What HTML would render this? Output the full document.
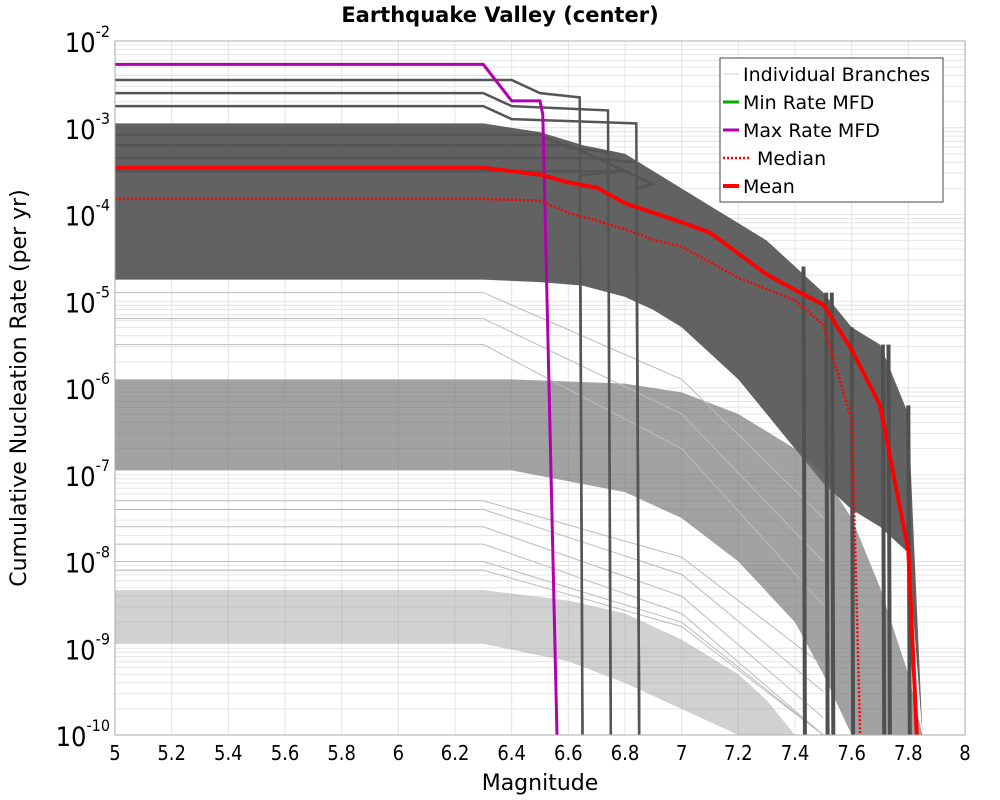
<!DOCTYPE html>
<html><head><meta charset="utf-8"><style>
body{margin:0;background:#fff;font-family:"Liberation Sans","DejaVu Sans",sans-serif}
</style></head><body>
<svg id="chart" width="1000" height="800" xmlns="http://www.w3.org/2000/svg" style="display:block">
<text x="500" y="22" text-anchor="middle" font-family="DejaVu Sans, sans-serif" font-weight="bold" font-size="21">Earthquake Valley (center)</text>
<text x="540" y="790" text-anchor="middle" font-family="DejaVu Sans, sans-serif" font-size="22">Magnitude</text>
<text transform="translate(26,388) rotate(-90)" text-anchor="middle" font-family="DejaVu Sans, sans-serif" font-size="22">Cumulative Nucleation Rate (per yr)</text>
<g id="grid"></g>
<g id="bands"></g>
<g id="branches"></g>
<g id="series"></g>
<g id="axes"></g>
<g id="legend"></g>
</svg>
<script>
// ---- data ----
const xTicks=[5,5.2,5.4,5.6,5.8,6,6.2,6.4,6.6,6.8,7,7.2,7.4,7.6,7.8,8];
const xTickLabels=["5","5.2","5.4","5.6","5.8","6","6.2","6.4","6.6","6.8","7","7.2","7.4","7.6","7.8","8"];
const yDecades=[-2,-3,-4,-5,-6,-7,-8,-9,-10];
const meanMags=[5,6.3,6.5,6.6,6.7,6.8,6.9,7.0,7.1,7.2,7.3,7.4,7.5,7.6,7.7,7.8,7.83];
const meanLog=[-3.46,-3.46,-3.54,-3.63,-3.69,-3.87,-3.98,-4.09,-4.21,-4.45,-4.69,-4.87,-5.04,-5.56,-6.2,-7.87,-10];
const medianMags=[5,6.3,6.5,6.6,6.7,6.8,6.9,7.0,7.1,7.2,7.3,7.4,7.5,7.6,7.63];
const medianLog=[-3.82,-3.82,-3.84,-3.98,-4.07,-4.17,-4.29,-4.37,-4.55,-4.73,-4.86,-4.99,-5.27,-6.37,-10];
const maxMags=[5,6.3,6.4,6.5,6.51,6.56];
const maxLog=[-2.27,-2.27,-2.69,-2.69,-2.85,-10];
const bandTopMags=[5,6.3,6.5,6.65,6.8,6.9,7.0,7.1,7.2,7.3,7.4,7.5,7.6,7.7,7.8,7.85];
const bandTopUpper=[-2.95,-2.95,-3.05,-3.2,-3.3,-3.5,-3.7,-3.9,-4.1,-4.3,-4.6,-4.9,-5.3,-5.5,-6.3,-10];
const bandTopLower=[-4.75,-4.75,-4.78,-4.82,-4.95,-5.1,-5.3,-5.6,-5.9,-6.3,-6.7,-7.1,-7.4,-7.6,-7.9,-10];
const bandMidMags=[5,6.4,6.8,7.0,7.2,7.4,7.5,7.6,7.7,7.8,7.85];
const bandMidUpper=[-5.9,-5.9,-5.95,-6.05,-6.3,-6.7,-7.0,-7.5,-8.3,-9.3,-10];
const bandMidLower=[-6.95,-6.95,-7.2,-7.5,-8.0,-8.7,-9.3,-10,-10,-10,-10];
const bandLowMags=[5,6.3,6.6,6.8,7.0,7.2,7.3,7.4];
const bandLowUpper=[-8.33,-8.33,-8.45,-8.6,-8.9,-9.3,-9.6,-10];
const bandLowLower=[-8.95,-8.95,-9.15,-9.4,-9.7,-10,-10,-10];
const darkLevels=[-2.45,-2.6,-2.75,-3.08,-3.2,-3.35,-3.5];
const darkKnee=[6.4,6.3,6.3,6.5,6.6,6.7,6.8];
const darkDrop=[6.65,6.75,6.85,6.75,6.85,6.65,6.85];
const vertMags=[7.43,7.51,7.53,7.6,7.71,7.73,7.8];
const vertTop=[-4.6,-4.9,-4.9,-5.3,-5.5,-5.5,-6.2];
const lightLevels=[-7.4,-7.6,-7.8,-8.0,-8.1,-7.3,-5.2,-5.5,-4.9];
const lightEnd=[-9.5,-9.8,-10,-10,-10,-9.2,-8,-8.5,-7.5];

const L=115,R=965,T=41,B=735;
const X=m=>L+(m-5)/3*(R-L);
const Y=l=>T+(-2-l)*(B-T)/8;
const NS="http://www.w3.org/2000/svg";
function mk(tag,parent,attrs){const e=document.createElementNS(NS,tag);for(const k in attrs)e.setAttribute(k,attrs[k]);parent.appendChild(e);return e;}
const grid=document.getElementById('grid');
yDecades.forEach(d=>{if(d<=-10)return;for(let k=1;k<10;k++){const l=d-1+Math.log10(k);
 const ln=mk('line',grid,{x1:L,x2:R,y1:Y(l),y2:Y(l),stroke:'#e4e4e4','stroke-width':1});
 
 }});
xTicks.forEach(m=>{const ln=mk('line',grid,{x1:X(m),x2:X(m),y1:T,y2:B,stroke:'#e4e4e4','stroke-width':1});
 
 });
const clamp=l=>Math.max(-10,l);
function band(mags,up,lo,fill,op,name){let p=mags.map((m,i)=>X(m)+','+Y(clamp(up[i]))).concat(mags.map((m,i)=>X(m)+','+Y(clamp(lo[i]))).reverse());
 const e=mk('polygon',document.getElementById('bands'),{points:p.join(' '),fill:fill,'fill-opacity':op});
 
 }
band(bandTopMags,bandTopUpper,bandTopLower,'#555',0.92,'branch-band-high');
band(bandMidMags,bandMidUpper,bandMidLower,'#707070',0.65,'branch-band-mid');
band(bandLowMags,bandLowUpper,bandLowLower,'#999',0.45,'branch-band-low');
const br=document.getElementById('branches');
function pl(parent,mags,logs,attrs,name){const pts=mags.map((m,i)=>X(m).toFixed(1)+','+Y(clamp(logs[i])).toFixed(1)).join(' ');
 const e=mk('polyline',parent,Object.assign({points:pts,fill:'none'},attrs));
 
 return e;}
lightLevels.forEach((lv,i)=>pl(br,[5,6.3,7.0,7.5],[lv,lv,(lv+lightEnd[i])/2+0.3,lightEnd[i]],{stroke:'#bbb','stroke-width':1},'light-branch'));
darkLevels.forEach((lv,i)=>pl(br,[5,darkKnee[i],darkKnee[i]+0.1,darkDrop[i]-0.01,darkDrop[i]],[lv,lv,lv-0.15,lv-0.2,-10],{stroke:'#555','stroke-width':2.5},'dark-branch'));
vertMags.forEach((m,i)=>pl(br,[m,m+0.005],[vertTop[i],-10],{stroke:'#505050','stroke-width':4},'dark-branch-drop'));
const se=document.getElementById('series');
pl(se,maxMags,maxLog,{stroke:'#b000b0','stroke-width':3},'max-rate-line');
pl(se,medianMags,medianLog,{stroke:'#f00','stroke-width':2.5,'stroke-dasharray':'2,2'},'median-line');
pl(se,meanMags,meanLog,{stroke:'#f00','stroke-width':4},'mean-line');
const ax=document.getElementById('axes');
const fr=mk('rect',ax,{x:L,y:T,width:R-L,height:B-T,fill:'none',stroke:'#aaa','stroke-width':1});


xTicks.forEach((m,i)=>{const t=mk('text',ax,{x:X(m),y:B+25,'text-anchor':'middle','font-size':20,'font-family':'DejaVu Sans Condensed, DejaVu Sans, sans-serif'});t.textContent=xTickLabels[i];
 
 });
yDecades.forEach(d=>{const t=mk('text',ax,{x:L-5,y:Y(d)+11,'text-anchor':'end','font-size':27,'font-family':'DejaVu Sans Condensed, DejaVu Sans, sans-serif'});
 t.textContent='10';const s=mk('tspan',t,{dy:-15,'font-size':16});s.textContent=String(d);
 
 });
const lg=document.getElementById('legend');
const bx=mk('rect',lg,{x:720,y:58,width:223,height:144,fill:'#fff',stroke:'#444','stroke-width':1});


const items=[['Individual Branches','#ccc',1,null,743],['Min Rate MFD','#0a0',3,null,743],['Max Rate MFD','#b000b0',3,null,743],['Median','#f00',2.5,'2,2',757],['Mean','#f00',4,null,743]];
items.forEach((it,i)=>{const y=74+i*28;
 const ln=mk('line',lg,{x1:723,x2:739+(it[3]?10:0),y1:y,y2:y,stroke:it[1],'stroke-width':it[2]});if(it[3])ln.setAttribute('stroke-dasharray',it[3]);
 
 
 const t=mk('text',lg,{x:it[4],y:y+7,'font-size':19,'font-family':'DejaVu Sans, sans-serif'});t.textContent=it[0];
 
 });
</script>
</body></html>
